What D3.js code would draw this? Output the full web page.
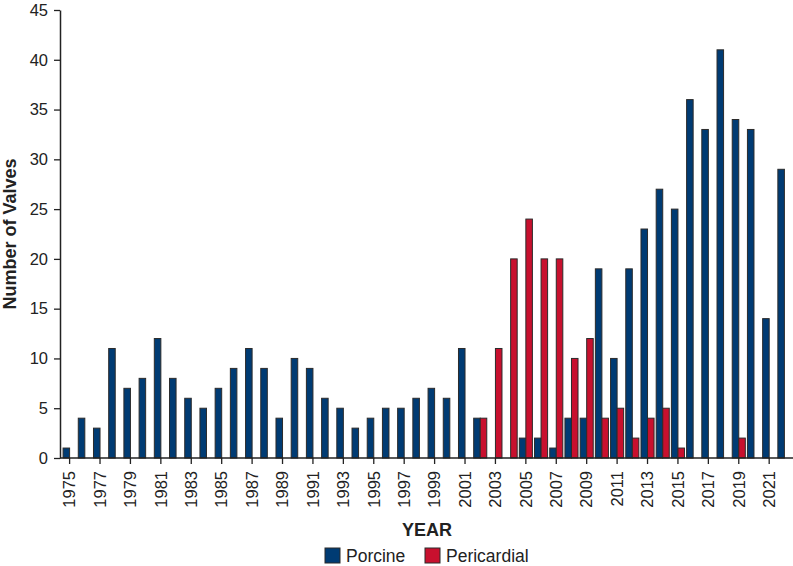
<!DOCTYPE html>
<html>
<head>
<meta charset="utf-8">
<script src="https://cdn.jsdelivr.net/npm/d3@7"></script>
<style>
  body { margin: 0; background: #fff; }
  svg { display: block; font-family: "Liberation Sans", Arial, Helvetica, sans-serif; }
</style>
</head>
<body>
<svg id="chart" width="793" height="566"></svg>
<script>
const years = d3.range(1975, 2023);
const porcine = [1,4,3,11,7,8,12,8,6,5,7,9,11,9,4,10,9,6,5,3,4,5,5,6,7,6,11,4,0,0,2,2,1,4,4,19,10,19,23,27,25,36,33,41,34,33,14,29];
const pericardial = [0,0,0,0,0,0,0,0,0,0,0,0,0,0,0,0,0,0,0,0,0,0,0,0,0,0,0,4,11,20,24,20,20,10,12,4,5,2,4,5,1,0,0,0,2,0,0,0];
const yTicks = [0,5,10,15,20,25,30,35,40,45];
const xTickYears = d3.range(1975, 2023, 2);
const seriesNames = ["Porcine", "Pericardial"];
const colors = ["#003b73", "#c8102e"];

const svg = d3.select("#chart");
const mLeft = 60, mRight = 793, mTop = 10, mBottom = 458;

const x = d3.scaleBand().domain(years).range([62, 792]).paddingInner(0.14).paddingOuter(0.07);
const xSub = d3.scaleBand().domain(seriesNames).range([0, x.bandwidth()]);
const y = d3.scaleLinear().domain([0, 45]).range([mBottom, mTop]);

const data = years.map((yr, i) => ({ year: yr, values: [porcine[i], pericardial[i]] }));

// bars
const g = svg.append("g");
data.forEach(d => {
  d.values.forEach((v, si) => {
    if (v <= 0) return;
    g.append("rect")
      .attr("x", x(d.year) + xSub(seriesNames[si]))
      .attr("y", y(v))
      .attr("width", xSub.bandwidth())
      .attr("height", y(0) - y(v))
      .attr("fill", colors[si])
      .attr("stroke", "#2b2b2b")
      .attr("stroke-width", 1);
  });
});

// y axis
const yAxis = d3.axisLeft(y).tickValues(yTicks).tickSize(6).tickPadding(6).tickSizeOuter(0);
const yg = svg.append("g").attr("transform", `translate(${mLeft},0)`).call(yAxis);
yg.select(".domain").attr("stroke", "#222").attr("stroke-width", 1.5);
yg.selectAll(".tick line").attr("stroke", "#222").attr("stroke-width", 1.3);
yg.selectAll("text").attr("font-size", 16.5).attr("fill", "#222").attr("font-family", "Liberation Sans, Arial, sans-serif");

// x axis
const xAxis = d3.axisBottom(x).tickValues(xTickYears).tickSize(6).tickPadding(4).tickSizeOuter(0);
const xg = svg.append("g").attr("transform", `translate(0,${mBottom})`).call(xAxis);
xg.select(".domain").attr("d", `M${mLeft},0H${mRight}`).attr("stroke", "#222").attr("stroke-width", 1.5);
xg.selectAll(".tick line").attr("stroke", "#222").attr("stroke-width", 1.3);
xg.selectAll("text")
  .attr("font-size", 16.5).attr("fill", "#222").attr("font-family", "Liberation Sans, Arial, sans-serif")
  .attr("transform", "rotate(-90)")
  .attr("text-anchor", "end")
  .attr("x", -13)
  .attr("y", 0)
  .attr("dy", "0.35em");

// axis titles
svg.append("text")
  .attr("transform", "translate(16,234) rotate(-90)")
  .attr("text-anchor", "middle")
  .attr("font-size", 18).attr("font-weight", "bold").attr("fill", "#222")
  .text("Number of Valves");

svg.append("text")
  .attr("x", 427).attr("y", 536)
  .attr("text-anchor", "middle")
  .attr("font-size", 18).attr("font-weight", "bold").attr("fill", "#222")
  .text("YEAR");

// legend
const legendItems = [{ name: seriesNames[0], color: colors[0], x: 325 }, { name: seriesNames[1], color: colors[1], x: 425 }];
legendItems.forEach(it => {
  svg.append("rect").attr("x", it.x).attr("y", 548).attr("width", 15).attr("height", 15)
    .attr("fill", it.color).attr("stroke", "#2b2b2b").attr("stroke-width", 1);
  svg.append("text").attr("x", it.x + 21).attr("y", 562)
    .attr("font-size", 17.5).attr("fill", "#222").text(it.name);
});
</script>
</body>
</html>
